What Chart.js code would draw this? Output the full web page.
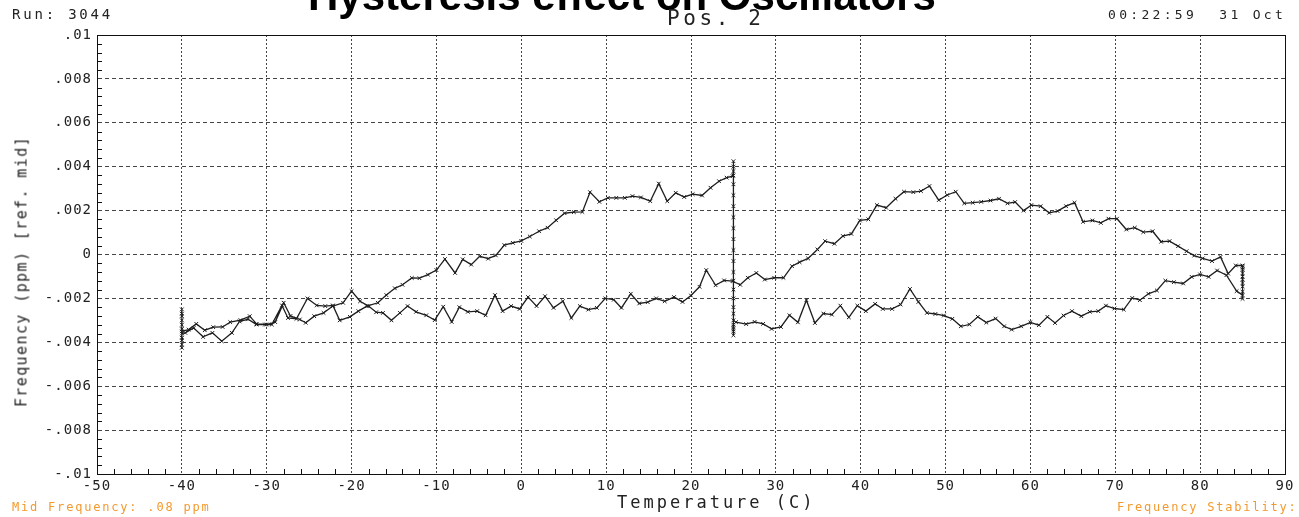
<!DOCTYPE html>
<html>
<head>
<meta charset="utf-8">
<title>Hysteresis effect on Oscillators</title>
<script src="https://cdn.jsdelivr.net/npm/chart.js@4.4.1/dist/chart.umd.min.js"></script>
<style>
  html, body { margin: 0; padding: 0; background: #fff; }
  #wrap { position: relative; width: 1299px; height: 517px; overflow: hidden; }
  #plot { position: absolute; left: 0; top: 0; }
  .txt { position: absolute; white-space: pre; font-family: 'DejaVu Sans Mono', monospace; color: #222; line-height: 1; }
  .title { position: absolute; left: 0; top: -25px; width: 1244px; text-align: center; font: bold 42px 'Liberation Sans', Arial, sans-serif; line-height: 42px; color: #000; white-space: nowrap; }
  .orange { color: #f39a2e; }
</style>
</head>
<body>
<div id="wrap">
  <canvas id="plot" width="1299" height="517"></canvas>
  <div class="title">Hysteresis effect on Oscillators</div>
  <div class="txt" style="left:12px; top:7px; font-size:14px; letter-spacing:2.8px;">Run: 3044</div>
  <div class="txt" style="left:667px; top:8px; font-size:21px; letter-spacing:3.6px;">Pos. 2</div>
  <div class="txt" style="left:1108px; top:8px; font-size:13px; letter-spacing:3.3px;">00:22:59  31 Oct</div>
  <div class="txt" style="left:617px; top:494px; font-size:17px; letter-spacing:3px;">Temperature (C)</div>
  <div class="txt" style="left:-128px; top:264px; width:300px; text-align:center; font-size:15px; letter-spacing:1.4px; transform:rotate(-90deg);">Frequency (ppm) [ref. mid]</div>
  <div class="txt orange" style="left:12px; top:501px; font-size:12px; letter-spacing:1.8px;">Mid Frequency: .08 ppm</div>
  <div class="txt orange" style="left:1117px; top:501px; font-size:12px; letter-spacing:1.8px;">Frequency Stability:</div>
</div>
<script>
// run order: heat 25 -> 85 (low branch), dwell at 85, cool 85 -> -40, dwell at -40,
// heat -40 -> 25 (high branch), dwell at 25.  frequencies are in 0.001 ppm
const warmLowTemp = [25.3, 26.5, 27.5, 28.5, 29.5, 30.6, 31.6, 32.6, 33.6, 34.6,
  35.6, 36.6, 37.6, 38.6, 39.6, 40.6, 41.7, 42.6, 43.7, 44.7,
  45.8, 46.8, 47.8, 48.8, 49.8, 50.8, 51.8, 52.8, 53.8, 54.8,
  55.9, 56.9, 57.8, 58.9, 60.0, 61.0, 62.0, 62.9, 63.9, 64.9,
  66.0, 67.0, 68.0, 68.9, 69.9, 71.0, 72.0, 72.9, 73.9, 74.9,
  75.9, 76.9, 78.0, 79.0, 80.0, 81.0, 82.0, 83.1, 84.3];
const warmLowFreq = [-3.08, -3.17, -3.07, -3.16, -3.39, -3.30, -2.77, -3.09, -2.08, -3.12,
  -2.69, -2.74, -2.33, -2.86, -2.33, -2.58, -2.25, -2.48, -2.48, -2.28,
  -1.57, -2.16, -2.66, -2.71, -2.78, -2.93, -3.27, -3.19, -2.84, -3.10,
  -2.92, -3.27, -3.42, -3.27, -3.09, -3.22, -2.84, -3.12, -2.78, -2.58,
  -2.81, -2.61, -2.58, -2.33, -2.46, -2.51, -1.98, -2.08, -1.79, -1.64,
  -1.19, -1.26, -1.32, -1.02, -0.91, -1.02, -0.73, -0.94, -1.67];

const hotDwellTemp = 85;
const hotDwellFreq = [-1.85, -2.02, -1.70, -1.45, -1.30, -1.15, -1.00, -0.85, -0.70, -0.60, -0.52, -0.50];

const coolTemp = [84.2, 83.3, 82.4, 81.4, 80.3, 79.3, 78.4, 77.4, 76.4, 75.4,
  74.4, 73.3, 72.3, 71.3, 70.2, 69.2, 68.3, 67.3, 66.2, 65.2,
  64.2, 63.2, 62.2, 61.2, 60.1, 59.2, 58.2, 57.3, 56.3, 55.3,
  54.2, 53.2, 52.2, 51.2, 50.2, 49.2, 48.1, 47.1, 46.2, 45.1,
  44.1, 43.0, 41.9, 40.9, 39.9, 38.9, 37.9, 36.9, 35.8, 34.9,
  33.8, 32.8, 31.9, 30.9, 29.8, 28.7, 27.7, 26.7, 25.8, 24.9,
  23.9, 22.9, 21.8, 21.0, 20.0, 19.0, 18.0, 16.9, 15.9, 14.9,
  13.9, 12.9, 11.8, 10.9, 9.9, 8.9, 7.9, 6.9, 5.9, 4.9,
  3.8, 2.8, 1.8, 0.8, -0.2, -1.2, -2.2, -3.1, -4.2, -5.2,
  -6.3, -7.3, -8.2, -9.2, -10.2, -11.2, -12.4, -13.4, -14.3, -15.3,
  -16.3, -17.1, -18.0, -19.0, -20.0, -21.0, -22.2, -23.3, -24.4, -25.4,
  -26.1, -27.2, -28.0, -29.0, -30.0, -31.2, -32.0, -33.1, -34.3, -35.2,
  -36.3, -37.3, -38.3, -39.2];
const coolFreq = [-0.50, -0.87, -0.11, -0.30, -0.18, -0.05, 0.15, 0.38, 0.61, 0.58,
  1.06, 1.02, 1.22, 1.14, 1.63, 1.63, 1.44, 1.55, 1.49, 2.36,
  2.20, 1.98, 1.90, 2.20, 2.25, 2.00, 2.39, 2.33, 2.54, 2.46,
  2.40, 2.36, 2.33, 2.86, 2.71, 2.48, 3.12, 2.89, 2.84, 2.86,
  2.54, 2.13, 2.25, 1.60, 1.55, 0.94, 0.84, 0.49, 0.61, 0.23,
  -0.18, -0.35, -0.53, -1.06, -1.06, -1.14, -0.84, -1.06, -1.38, -1.21,
  -1.18, -1.40, -0.71, -1.47, -1.87, -2.16, -1.94, -2.13, -2.00, -2.17,
  -2.23, -1.79, -2.43, -2.06, -2.00, -2.43, -2.51, -2.35, -2.89, -2.13,
  -2.43, -1.90, -2.35, -1.94, -2.48, -2.35, -2.58, -1.85, -2.77, -2.58,
  -2.61, -2.40, -3.07, -2.38, -2.99, -2.77, -2.61, -2.35, -2.66, -3.00,
  -2.66, -2.63, -2.35, -2.13, -1.67, -2.20, -2.35, -2.66, -2.81, -3.11,
  -2.96, -2.80, -2.20, -3.08, -3.19, -3.16, -2.81, -2.99, -3.08, -3.30,
  -3.31, -3.45, -3.16, -3.42];

const coldDwellTemp = -40;
const coldDwellFreq = [-3.50, -3.90, -4.25, -4.10, -3.80, -3.40, -3.00, -2.70, -2.50, -2.80, -3.20, -3.60];

const warmHighTemp = [-39.6, -38.6, -37.5, -36.4, -35.3, -34.1, -33.2, -32.2, -31.2, -30.2,
  -29.4, -28.2, -27.5, -26.5, -25.2, -24.1, -23.1, -22.2, -21.4, -20.2,
  -19.2, -18.2, -16.9, -15.9, -14.9, -14.0, -12.9, -12.0, -11.0, -10.0,
  -9.0, -7.8, -6.9, -5.9, -4.9, -3.9, -3.0, -2.0, -1.0, 0.0,
  1.0, 2.1, 3.1, 4.1, 5.1, 6.2, 7.2, 8.1, 9.2, 10.2,
  11.2, 12.2, 13.1, 14.1, 15.2, 16.2, 17.2, 18.2, 19.2, 20.2,
  21.3, 22.3, 23.3, 24.2, 24.9];
const warmHighFreq = [-3.57, -3.35, -3.75, -3.57, -3.95, -3.57, -3.05, -2.95, -3.19, -3.19,
  -3.19, -2.32, -2.89, -2.93, -2.00, -2.32, -2.35, -2.32, -3.00, -2.84,
  -2.58, -2.35, -2.20, -1.85, -1.54, -1.38, -1.07, -1.08, -0.92, -0.71,
  -0.21, -0.84, -0.22, -0.46, -0.08, -0.19, -0.04, 0.43, 0.53, 0.62,
  0.82, 1.06, 1.22, 1.56, 1.88, 1.93, 1.94, 2.84, 2.40, 2.58,
  2.58, 2.58, 2.66, 2.60, 2.43, 3.23, 2.43, 2.81, 2.62, 2.75,
  2.69, 3.04, 3.34, 3.50, 3.57];

const roomDwellTemp = 25;
const roomDwellFreq = [3.80, 4.25, 4.00, 3.60, 3.20, 2.70, 2.20, 1.70, 1.20, 0.70, 0.20, -0.30,
  -0.80, -1.20, -1.60, -2.00, -2.40, -2.70, -3.00, -3.30, -3.50, -3.68, -3.40, -3.20];

// axis setup
const tempTicks = { min: -50, max: 90, step: 10, minor: 2 };
const freqTicks = { min: -0.01, max: 0.01, step: 0.002, minor: 0.0004 };

const leg = (temps, freqs) => freqs.map((f, i) => ({ x: temps[i], y: f / 1000 }));
const dwell = (temp, freqs) => freqs.map(f => ({ x: temp, y: f / 1000 }));

const tracePoints = [].concat(
  leg(warmLowTemp, warmLowFreq),
  dwell(hotDwellTemp, hotDwellFreq),
  leg(coolTemp, coolFreq),
  dwell(coldDwellTemp, coldDwellFreq),
  leg(warmHighTemp, warmHighFreq),
  dwell(roomDwellTemp, roomDwellFreq)
);

// plotter style labels: .01  .008 ... 0 ... -.008  -.01
function plotterLabel(v) {
  const r = Math.round(v * 1000) / 1000;
  if (r === 0) return '0';
  return String(r).replace('0.', '.');
}

const tickFont = { family: 'DejaVu Sans Mono', size: 14 };
const ink = '#222';

// solid frame + small inward ticks on the left and bottom axes
const plotFrame = {
  id: 'plotFrame',
  beforeDraw(chart) {
    chart.ctx.letterSpacing = '1px';
  },
  afterDraw(chart) {
    const { ctx, chartArea: a, scales: { x, y } } = chart;
    const al = v => Math.round(v) + 0.5;
    ctx.save();
    ctx.setLineDash([]);
    ctx.strokeStyle = '#111';
    ctx.lineWidth = 1;
    ctx.strokeRect(al(a.left), al(a.top), Math.round(a.right - a.left), Math.round(a.bottom - a.top));

    ctx.beginPath();
    const nx = Math.round((tempTicks.max - tempTicks.min) / tempTicks.minor);
    const perX = Math.round(tempTicks.step / tempTicks.minor);
    for (let i = 1; i < nx; i++) {
      if (i % perX === 0) continue;
      const px = al(x.getPixelForValue(tempTicks.min + i * tempTicks.minor));
      ctx.moveTo(px, a.bottom);
      ctx.lineTo(px, a.bottom - 5);
    }
    const ny = Math.round((freqTicks.max - freqTicks.min) / freqTicks.minor);
    const perY = Math.round(freqTicks.step / freqTicks.minor);
    for (let i = 1; i < ny; i++) {
      if (i % perY === 0) continue;
      const py = al(y.getPixelForValue(freqTicks.min + i * freqTicks.minor));
      ctx.moveTo(a.left, py);
      ctx.lineTo(a.left + 5, py);
    }
    ctx.stroke();
    ctx.restore();
  }
};

new Chart(document.getElementById('plot'), {
  type: 'scatter',
  data: {
    datasets: [{
      data: tracePoints,
      showLine: true,
      tension: 0,
      borderColor: '#1e1e1e',
      borderWidth: 1.3,
      pointStyle: 'crossRot',
      pointRadius: 2.6,
      pointBorderColor: '#1e1e1e',
      pointBackgroundColor: '#1e1e1e',
      pointBorderWidth: 1
    }]
  },
  options: {
    responsive: false,
    animation: false,
    devicePixelRatio: 1,
    layout: { padding: { top: 35, right: 14, bottom: 0, left: 0 } },
    plugins: {
      legend: { display: false },
      tooltip: { enabled: false }
    },
    scales: {
      x: {
        type: 'linear',
        min: tempTicks.min,
        max: tempTicks.max,
        ticks: { stepSize: tempTicks.step, autoSkip: false, maxRotation: 0, padding: 4, font: tickFont, color: ink },
        grid: { color: '#444', lineWidth: 1, drawTicks: false },
        border: { display: true, color: '#111', dash: [2, 2] },
        afterFit: s => { s.height = 43; }
      },
      y: {
        type: 'linear',
        min: freqTicks.min,
        max: freqTicks.max,
        ticks: { stepSize: freqTicks.step, autoSkip: false, padding: 5, font: tickFont, color: ink, callback: plotterLabel },
        grid: { color: '#444', lineWidth: 1, drawTicks: false },
        border: { display: true, color: '#111', dash: [4, 3] },
        afterFit: s => { s.width = 97; }
      }
    }
  },
  plugins: [plotFrame]
});
</script>
</body>
</html>
